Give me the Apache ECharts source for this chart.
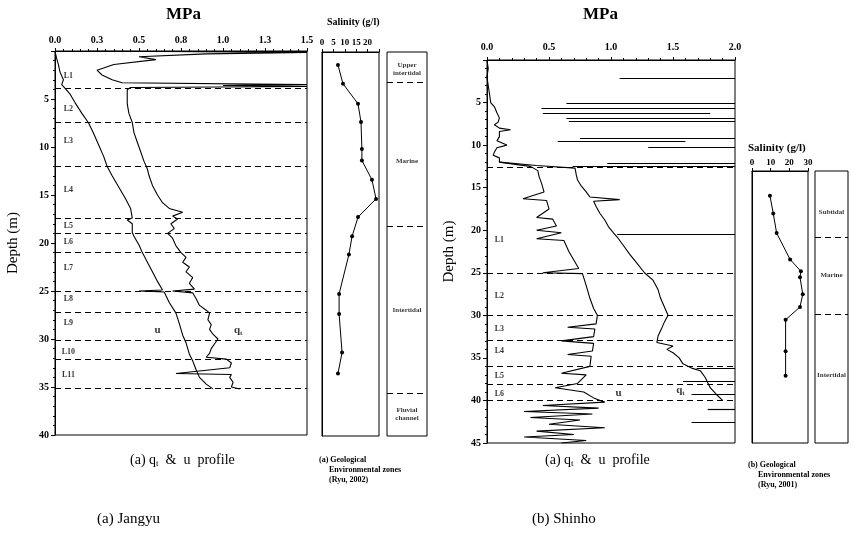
<!DOCTYPE html>
<html><head><meta charset="utf-8">
<script src="https://cdn.jsdelivr.net/npm/echarts@6/dist/echarts.min.js"></script>
<style>html,body{margin:0;padding:0;background:#fff}#c{width:853px;height:542px}</style>
</head><body><div id="c"></div>
<script>
// ---------- DATA ----------
// Jangyu (left) : [value MPa, depth m]
const leftTickLabels = ['0.0','0.3','0.5','0.8','1.0','1.3','1.5'];
const rightTickLabels = ['0.0','0.5','1.0','1.5','2.0'];
const uLeft = [[0,0],[0.01,0.8],[0.02,1.4],[0.03,2.2],[0.05,3.0],[0.04,3.5],[0.06,3.9],[0.09,4.5],[0.12,5.4],[0.16,6.5],[0.2,7.5],[0.23,8.6],[0.26,9.8],[0.29,11.0],[0.31,12.0],[0.34,13.0],[0.38,14.2],[0.42,15.4],[0.45,16.4],[0.46,17.4],[0.43,17.6],[0.46,18.0],[0.46,18.9],[0.47,19.3],[0.5,20.2],[0.52,21.0],[0.55,22.0],[0.58,23.0],[0.61,24.0],[0.64,24.9],[0.5,25.0],[0.65,25.1],[0.68,26.2],[0.72,27.3],[0.74,28.4],[0.76,29.6],[0.78,30.4],[0.8,31.6],[0.82,32.3],[0.84,33.2],[0.86,34.0],[0.9,34.7],[0.94,35.2]];
const qtLeft = [[0.2,0],[1.5,0.15],[0.9,0.3],[0.5,0.6],[0.6,0.9],[0.35,1.4],[0.25,2.0],[0.28,2.5],[0.34,3.0],[0.4,3.3],[1.5,3.5],[1.0,3.6],[1.5,3.7],[0.45,3.8],[0.43,4.0],[0.43,4.5],[0.43,5.5],[0.44,6.5],[0.46,7.45],[0.47,8.5],[0.49,9.5],[0.51,10.5],[0.53,11.5],[0.55,12.3],[0.56,13.0],[0.58,14.0],[0.61,15.0],[0.64,15.8],[0.68,16.4],[0.76,16.8],[0.7,17.2],[0.73,17.5],[0.69,18.0],[0.71,18.5],[0.67,19.0],[0.7,19.5],[0.72,20.3],[0.75,21.0],[0.78,21.5],[0.76,22.0],[0.8,22.5],[0.78,23.0],[0.82,23.6],[0.8,24.2],[0.83,24.8],[0.7,25.0],[0.82,25.2],[0.84,25.8],[0.86,26.5],[0.9,27.0],[0.92,27.3],[0.91,28.0],[0.93,28.5],[0.92,29.0],[0.94,29.5],[0.97,30.0],[0.95,30.5],[0.93,31.0],[0.92,31.5],[0.9,31.9],[1.02,32.1],[1.05,32.5],[1.04,33.0],[0.72,33.6],[1.05,33.7],[1.04,34.0],[1.06,34.5],[1.05,35.0],[1.1,35.2]];
const layerBoundsLeft = [3.9,7.45,12.0,17.4,19.0,20.95,25.0,27.2,30.1,32.1,35.1];
const layerNamesLeft = ['L1','L2','L3','L4','L5','L6','L7','L8','L9','L10','L11'];
const layerDepthsLeft = [2.6,6.0,9.4,14.5,18.2,19.9,22.6,25.8,28.3,31.3,33.7];
const salLeft = [[7.0,1.35],[9.2,3.3],[15.8,5.4],[17.1,7.3],[17.5,10.1],[17.5,11.3],[21.9,13.3],[23.7,15.3],[15.8,17.2],[13.2,19.2],[11.8,21.1],[7.5,25.2],[7.5,27.3],[8.8,31.3],[7.0,33.5]];
const salTicksLeft = ['0','5','10','15','20',''];
const zoneNamesLeft = ['Upper\nintertidal','Marine','Intertidal','Fluvial\nchannel'];
const zoneDepthsLeft = [1.8,11.4,26.9,37.7];
const zoneBoundsLeft = [3.2,18.2,35.5];

// Shinho (right)
const uRight = [[0,0],[0.01,1],[0,2],[0.01,3],[0.02,4],[0.03,5],[0.06,5.5],[0.08,6.2],[0.1,6.8],[0.09,7.3],[0.06,7.6],[0.1,8.0],[0.19,8.2],[0.1,8.4],[0.1,9.0],[0.08,9.5],[0.16,10.0],[0.08,10.3],[0.06,10.8],[0.05,11.2],[0.1,11.5],[0.1,12.0],[0.2,12.2],[0.35,12.5],[0.41,13.0],[0.42,13.7],[0.44,14.5],[0.46,15.5],[0.29,16.3],[0.48,16.5],[0.5,17.5],[0.4,18.5],[0.53,18.7],[0.56,19.5],[0.4,20.0],[0.6,20.3],[0.4,21.0],[0.62,21.2],[0.66,22.5],[0.7,23.5],[0.74,24.5],[0.45,25.0],[0.77,25.1],[0.8,26.5],[0.83,28.0],[0.86,29.2],[0.89,30.0],[0.88,31.0],[0.65,31.4],[0.87,31.6],[0.86,32.5],[0.6,33.0],[0.86,33.3],[0.85,34.2],[0.65,34.6],[0.84,34.8],[0.83,36.0],[0.6,36.8],[0.8,37.0],[0.73,38.0],[0.55,38.5],[0.78,39.0],[0.86,39.7],[0.95,40.2],[0.45,40.6],[0.9,40.9],[0.3,41.3],[0.85,41.6],[0.35,42.0],[0.75,42.3],[0.5,42.8],[0.95,43.2],[0.4,43.6],[0.7,44.0],[0.3,44.3],[0.8,44.7],[0.6,45]];
const qtRight = [[0.1,12.0],[0.4,12.4],[0.71,12.7],[0.72,13.5],[0.73,14.1],[0.76,14.8],[0.8,15.5],[0.83,16.1],[1.07,16.4],[0.86,16.6],[0.88,17.2],[0.91,18.0],[0.95,18.8],[0.98,19.6],[1.02,20.3],[1.05,20.8],[1.1,21.8],[1.15,22.8],[1.21,23.9],[1.27,25.0],[1.34,25.9],[1.38,27.0],[1.4,28.0],[1.43,29.0],[1.46,30.0],[1.43,30.8],[1.41,31.5],[1.38,32.4],[1.37,33.2],[1.5,33.6],[1.45,34.0],[1.5,34.4],[1.55,35.0],[1.58,35.7],[1.65,36.2],[1.72,36.5],[1.76,37.3],[1.8,38.5],[1.85,39.3],[1.9,40.0]];
const qtSpikesRight = [[2.1,1.07,2.0],[5.1,0.64,2.0],[5.7,0.44,2.0],[6.2,0.45,1.8],[6.8,0.64,2.0],[7.2,0.66,2.0],[9.2,0.75,2.0],[9.6,0.57,1.6],[10.2,1.3,2.0],[12.1,0.97,2.0],[12.5,0.69,2.0],[20.5,1.05,2.0],[36.2,1.69,2.0],[37.7,1.58,2.0],[39.3,1.65,2.0],[41.0,1.78,2.0],[42.6,1.65,2.0]];
const layerBoundsRight = [12.6,25.0,30.0,32.9,36.0,38.1,40.0];
const layerNamesRight = ['L1','L2','L3','L4','L5','L6'];
const layerDepthsRight = [21.2,27.7,31.6,34.2,37.1,39.2];
const salRight = [[9.6,15.9],[11.4,18.0],[13.2,20.3],[20.4,23.4],[26.2,24.8],[25.7,25.5],[27.2,27.5],[25.7,29.0],[18.0,30.5],[18.0,34.2],[18.0,37.1]];
const zoneNamesRight = ['Subtidal','Marine','Intertidal'];
const zoneDepthsRight = [17.8,25.2,37.0];
const zoneBoundsRight = [20.8,29.8];

// ---------- CHART ----------
const FONT = "'Liberation Serif','DejaVu Serif',serif";
const chart = echarts.init(document.getElementById('c'), null, {renderer:'canvas'});
const blk = '#000';
function grid(l,t,w,h){return {left:l,top:t,width:w,height:h,show:true,borderColor:blk,borderWidth:1,backgroundColor:'transparent',containLabel:false};}
function xAx(gi,min,max,interval,fmt,opts){return Object.assign({gridIndex:gi,type:'value',position:'top',min,max,interval,
  axisLine:{show:true,lineStyle:{color:blk,width:1}},axisTick:{show:true,length:3,lineStyle:{color:blk}},
  minorTick:{show:true,splitNumber:5,length:2,lineStyle:{color:blk}},splitLine:{show:false},
  axisLabel:{show:true,formatter:fmt,color:blk,fontFamily:FONT,fontSize:10,fontWeight:'bold',margin:6}},opts||{});}
function yAx(gi,min,max,showLabels,opts){return Object.assign({gridIndex:gi,type:'value',inverse:true,min,max,interval:5,
  axisLine:{show:true,lineStyle:{color:blk}},axisTick:{show:showLabels,length:4,lineStyle:{color:blk}},
  minorTick:{show:showLabels,splitNumber:5,length:2,lineStyle:{color:blk}},splitLine:{show:false},
  axisLabel:{show:showLabels,color:blk,fontFamily:FONT,fontSize:10,fontWeight:'bold',margin:6,formatter:v=>v===0?'':v}},opts||{});}
const hidX = gi=>({gridIndex:gi,type:'value',min:0,max:1,show:false});
const dashLines = arr=>({symbol:'none',silent:true,animation:false,label:{show:false},lineStyle:{type:[6,4],color:blk,width:1},data:arr.map(d=>({yAxis:d}))});
const lineS = (xi,data,w)=>({type:'line',xAxisIndex:xi,yAxisIndex:xi,data,symbol:'none',showSymbol:false,animation:false,lineStyle:{color:blk,width:w||1.1},z:3});
const labelS = (xi,names,depths,x,fs)=>({type:'scatter',xAxisIndex:xi,yAxisIndex:xi,symbolSize:1,itemStyle:{color:'transparent'},animation:false,
  data:names.map((n,i)=>[x,depths[i],n]),label:{show:true,position:'inside',formatter:p=>p.data[2],color:blk,fontFamily:FONT,fontSize:fs,fontWeight:'bold',lineHeight:fs+1}});
const curveLab = (xi,items)=>({type:'scatter',xAxisIndex:xi,yAxisIndex:xi,symbolSize:1,itemStyle:{color:'transparent'},animation:false,
  data:items,label:{show:true,position:'inside',formatter:p=>p.data[2],color:blk,fontFamily:FONT,fontSize:11,fontWeight:'bold',
  rich:{m:{fontFamily:FONT,fontSize:11,fontWeight:'bold',color:blk},s:{fontFamily:FONT,fontSize:7,fontWeight:'bold',color:blk,padding:[6,0,0,0]}}}});

const option = {
  animation:false,
  grid:[grid(55,51,252,384),grid(322,52,57,384),grid(387,52,40,384),grid(487,60,248,383),grid(752,171,56,272),grid(815,171,33,272)],
  xAxis:[
    xAx(0,0,1.5,0.25,v=>leftTickLabels[Math.round(v/0.25)]),
    xAx(1,0,25,5,v=>salTicksLeft[Math.round(v/5)],{minorTick:{show:false},axisLabel:{color:blk,fontFamily:FONT,fontSize:9,fontWeight:'bold',margin:5,formatter:v=>salTicksLeft[Math.round(v/5)]}}),
    hidX(2),
    xAx(3,0,2,0.5,v=>rightTickLabels[Math.round(v/0.5)],{axisLabel:{color:blk,fontFamily:FONT,fontSize:10,fontWeight:'bold',margin:8,formatter:v=>rightTickLabels[Math.round(v/0.5)]}}),
    xAx(4,0,30,10,v=>v,{minorTick:{show:false},axisLabel:{color:blk,fontFamily:FONT,fontSize:9,fontWeight:'bold',margin:4}}),
    hidX(5)
  ],
  yAxis:[
    yAx(0,0,40,true,{name:'Depth (m)',nameLocation:'middle',nameRotate:90,nameGap:34,nameTextStyle:{fontFamily:FONT,fontSize:15,color:blk}}),
    yAx(1,0,40,false),
    yAx(2,0,40,false,{axisLine:{show:false}}),
    yAx(3,0,45,true,{name:'Depth (m)',nameLocation:'middle',nameRotate:90,nameGap:30,nameTextStyle:{fontFamily:FONT,fontSize:15,color:blk}}),
    yAx(4,13,45,false),
    yAx(5,13,45,false,{axisLine:{show:false}})
  ],
  series:[
    Object.assign(lineS(0,uLeft),{markLine:dashLines(layerBoundsLeft)}),
    lineS(0,qtLeft),
    labelS(0,layerNamesLeft,layerDepthsLeft,0.08,8),
    curveLab(0,[[0.61,29.1,'{m|u}'],[1.09,29.1,'{m|q}{s|t}']]),
    Object.assign(lineS(1,salLeft,1),{symbol:'circle',showSymbol:true,symbolSize:4,itemStyle:{color:blk}}),
    Object.assign(labelS(2,zoneNamesLeft,zoneDepthsLeft,0.5,7),{markLine:dashLines(zoneBoundsLeft)}),
    Object.assign(lineS(3,uRight),{markLine:dashLines(layerBoundsRight)}),
    Object.assign(lineS(3,qtRight),{markLine:{symbol:'none',silent:true,label:{show:false},lineStyle:{type:'solid',color:blk,width:1.2},
      data:qtSpikesRight.map(s=>[{coord:[s[1],s[0]]},{coord:[s[2],s[0]]}])}}),
    labelS(3,layerNamesRight,layerDepthsRight,0.1,8),
    curveLab(3,[[1.06,39.2,'{m|u}'],[1.56,38.8,'{m|q}{s|t}']]),
    Object.assign(lineS(4,salRight,1),{symbol:'circle',showSymbol:true,symbolSize:4,itemStyle:{color:blk}}),
    Object.assign(labelS(5,zoneNamesRight,zoneDepthsRight,0.5,7),{markLine:dashLines(zoneBoundsRight)})
  ],
  graphic:[
    {type:'text',left:166,top:6,style:{text:'MPa',font:'bold 17px '+FONT,fill:blk}},
    {type:'text',left:327,top:17,style:{text:'Salinity (g/l)',font:'bold 10px '+FONT,fill:blk}},
    {type:'text',left:583,top:6,style:{text:'MPa',font:'bold 17px '+FONT,fill:blk}},
    {type:'text',left:748,top:143,style:{text:'Salinity (g/l)',font:'bold 11px '+FONT,fill:blk}},
    {type:'text',left:130,top:453,style:{text:'(a) q{s|t}  &  u  profile',font:'14px '+FONT,fill:blk,rich:{s:{fontFamily:FONT,fontSize:9,padding:[7,0,0,0]}}}},
    {type:'text',left:545,top:453,style:{text:'(a) q{s|t}  &  u  profile',font:'14px '+FONT,fill:blk,rich:{s:{fontFamily:FONT,fontSize:9,padding:[7,0,0,0]}}}},
    {type:'text',left:319,top:455,style:{text:'(a) Geological\n     Environmental zones\n     (Ryu, 2002)',font:'bold 8px '+FONT,fill:blk,lineHeight:10}},
    {type:'text',left:748,top:460,style:{text:'(b) Geological\n     Environmental zones\n     (Ryu, 2001)',font:'bold 8px '+FONT,fill:blk,lineHeight:10}},
    {type:'text',left:97,top:512,style:{text:'(a) Jangyu',font:'15px '+FONT,fill:blk}},
    {type:'text',left:532,top:512,style:{text:'(b) Shinho',font:'15px '+FONT,fill:blk}}
  ]
};
chart.setOption(option);
</script></body></html>
